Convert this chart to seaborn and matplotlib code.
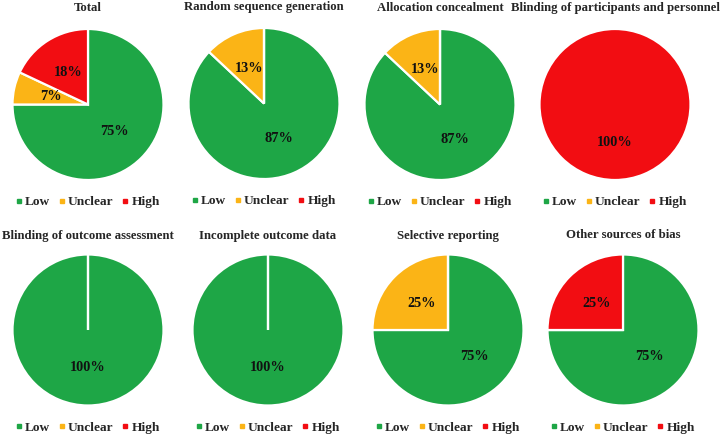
import seaborn as sns
import matplotlib.pyplot as plt
from matplotlib.lines import Line2D

# data
categories = ["Low", "Unclear", "High"]
titles = ["Total", "Random sequence generation", "Allocation concealment",
          "Blinding of participants and personnel",
          "Blinding of outcome assessment", "Incomplete outcome data",
          "Selective reporting", "Other sources of bias"]
low = [75, 87, 87, 0, 100, 100, 75, 75]
unclear = [7, 13, 13, 0, 0, 0, 25, 0]
high = [18, 0, 0, 100, 0, 0, 0, 25]

colors = ["#1ea646", "#fbb416", "#f20d12"]

sns.set_theme(style="white")
plt.rcParams['font.family'] = ['Liberation Serif', 'DejaVu Serif']
plt.rcParams['font.weight'] = 'bold'

W, H = 721, 438
fig = plt.figure(figsize=(W / 100, H / 100), dpi=100)

# pixel centres of each pie (x, y from top), radius
centers = [(88, 104.5), (264, 103.5), (440, 104.5), (615, 104.5),
           (88, 330), (268, 330), (448, 330), (623, 330)]
R = 75.5
title_gap = [21, 21, 21, 21, 19, 19, 19, 19]
legend_gap = 22


def pct(p):
    return f"{p:.0f}%" if p > 0.5 else ""


for i, t in enumerate(titles):
    cx, cy = centers[i]
    ax = fig.add_axes([(cx - R) / W, 1 - (cy + R) / H, 2 * R / W, 2 * R / H])
    vals = [low[i], unclear[i], high[i]]
    ax.pie(vals, colors=colors, startangle=90, counterclock=False,
           autopct=pct, pctdistance=0.5,
           wedgeprops=dict(edgecolor="white", linewidth=1.6),
           textprops=dict(fontsize=10.3, fontweight="bold", color="#111111"))
    ax.set_xlim(-1, 1)
    ax.set_ylim(-1, 1)
    ax.text(0.5, 1 + title_gap[i] / (2 * R), t, transform=ax.transAxes,
            ha="center", va="center", fontsize=9.2, fontweight="bold")
    handles = [Line2D([], [], marker="s", linestyle="", markersize=3.5,
                      color=c) for c in colors]
    ax.legend(handles, categories, loc="center", ncol=3, frameon=False,
              bbox_to_anchor=(0.5, -legend_gap / (2 * R)),
              handletextpad=0.25, columnspacing=0.7, handlelength=0.4,
              borderpad=0, prop=dict(size=9.6, weight="bold"))

fig.savefig("out.png", dpi=100)
